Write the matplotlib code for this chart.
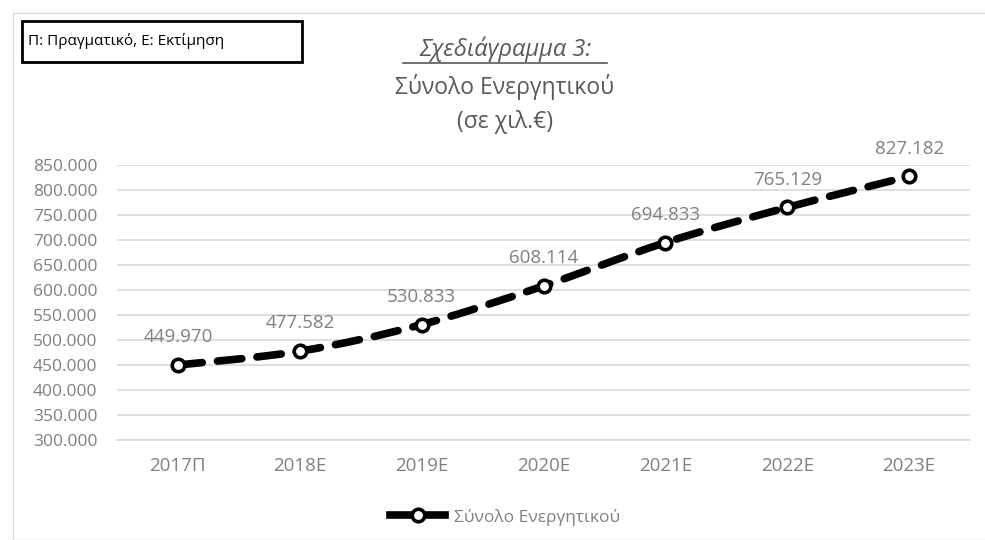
import matplotlib.pyplot as plt
from matplotlib.path import Path
from matplotlib.patches import PathPatch, Rectangle
from matplotlib.lines import Line2D
import numpy as np

plt.rcParams['font.family'] = ['Open Sans', 'DejaVu Sans']

categories = ['2017Π', '2018Ε', '2019Ε', '2020Ε', '2021Ε', '2022Ε', '2023Ε']
values = [449970, 477582, 530833, 608114, 694833, 765129, 827182]
series_name = 'Σύνολο Ενεργητικού'
yticks = list(range(300000, 850001, 50000))


def fmt(v):
    return f'{v:,.0f}'.replace(',', '.')


grey = '#808080'
grid = '#d9d9d9'

fig = plt.figure(figsize=(9.85, 5.4), dpi=100)
fig.patches.append(Rectangle((13 / 985, 0.0), 1.0, 1 - 13 / 540, transform=fig.transFigure,
                             fill=False, edgecolor='#d9d9d9', linewidth=1.0))

ax = fig.add_axes([117 / 985, 1 - 440 / 540, 853 / 985, 275 / 540])
x = np.arange(len(categories))
y = np.array(values, dtype=float)

# smoothed curve like Excel (Catmull-Rom to Bezier)
verts = [(x[0], y[0])]
codes = [Path.MOVETO]
px = np.concatenate([[x[0]], x, [x[-1]]])
py = np.concatenate([[y[0]], y, [y[-1]]])
t = 1 / 6
for j in range(2, len(px) - 1):
    c1 = (px[j - 1] + (px[j] - px[j - 2]) * t, py[j - 1] + (py[j] - py[j - 2]) * t)
    c2 = (px[j] - (px[j + 1] - px[j - 1]) * t, py[j] - (py[j + 1] - py[j - 1]) * t)
    verts += [c1, c2, (px[j], py[j])]
    codes += [Path.CURVE4] * 3
patch = PathPatch(Path(verts, codes), fill=False, edgecolor='black', linewidth=5.5,
                  linestyle=(0, (3.2, 2.0)), capstyle='round', zorder=3)
ax.add_patch(patch)
ax.plot(x, y, linestyle='none', marker='o', markersize=9, markerfacecolor='white',
        markeredgecolor='black', markeredgewidth=2.6, zorder=4)

for xi, v in zip(x, values):
    ax.annotate(fmt(v), (xi, v), xytext=(0, 20), textcoords='offset points',
                ha='center', va='center', fontsize=13.5, color=grey)

ax.set_xlim(-0.5, len(categories) - 0.5)
ax.set_ylim(300000, 850000)
ax.set_yticks(yticks)
ax.set_yticklabels([fmt(v) for v in yticks])
ax.set_xticks(x)
ax.set_xticklabels(categories)
ax.tick_params(axis='both', length=0, labelsize=13.5, colors=grey)
ax.tick_params(axis='y', labelsize=12.5, pad=14)
ax.tick_params(axis='x', pad=12)
ax.grid(axis='y', color=grid, linewidth=1.2)
ax.set_axisbelow(True)
for s in ['top', 'right', 'left']:
    ax.spines[s].set_visible(False)
ax.spines['bottom'].set_color(grid)
ax.spines['bottom'].set_linewidth(1.2)

fig.text(505 / 985, 1 - 49 / 540, 'Σχεδιάγραμμα 3:', ha='center', va='center',
         fontsize=17, color='#595959', style='italic')
fig.add_artist(Line2D([403 / 985, 607 / 985], [1 - 63 / 540, 1 - 63 / 540], color='#595959', linewidth=1.2))
fig.text(505 / 985, 1 - 87 / 540, 'Σύνολο Ενεργητικού', ha='center', va='center',
         fontsize=16.5, color='#595959')
fig.text(505 / 985, 1 - 122 / 540, '(σε χιλ.€)', ha='center', va='center',
         fontsize=16.5, color='#595959')

fig.text(28 / 985, 1 - 41 / 540, 'Π: Πραγματικό, Ε: Εκτίμηση', ha='left', va='center',
         fontsize=11, color='black')
fig.patches.append(Rectangle((22 / 985, 1 - 62 / 540), 280 / 985, 41 / 540,
                             transform=fig.transFigure, fill=False, edgecolor='black', linewidth=2))

handle = Line2D([], [], color='black', linewidth=5.5, marker='o', markersize=9,
                markerfacecolor='white', markeredgecolor='black', markeredgewidth=2.6)
fig.legend([handle], [series_name], loc='center', bbox_to_anchor=(505 / 985, 1 - 517 / 540),
           frameon=False, fontsize=12.5, labelcolor=grey, handlelength=3.2, handletextpad=0.5)

fig.savefig('out.png', dpi=100)
